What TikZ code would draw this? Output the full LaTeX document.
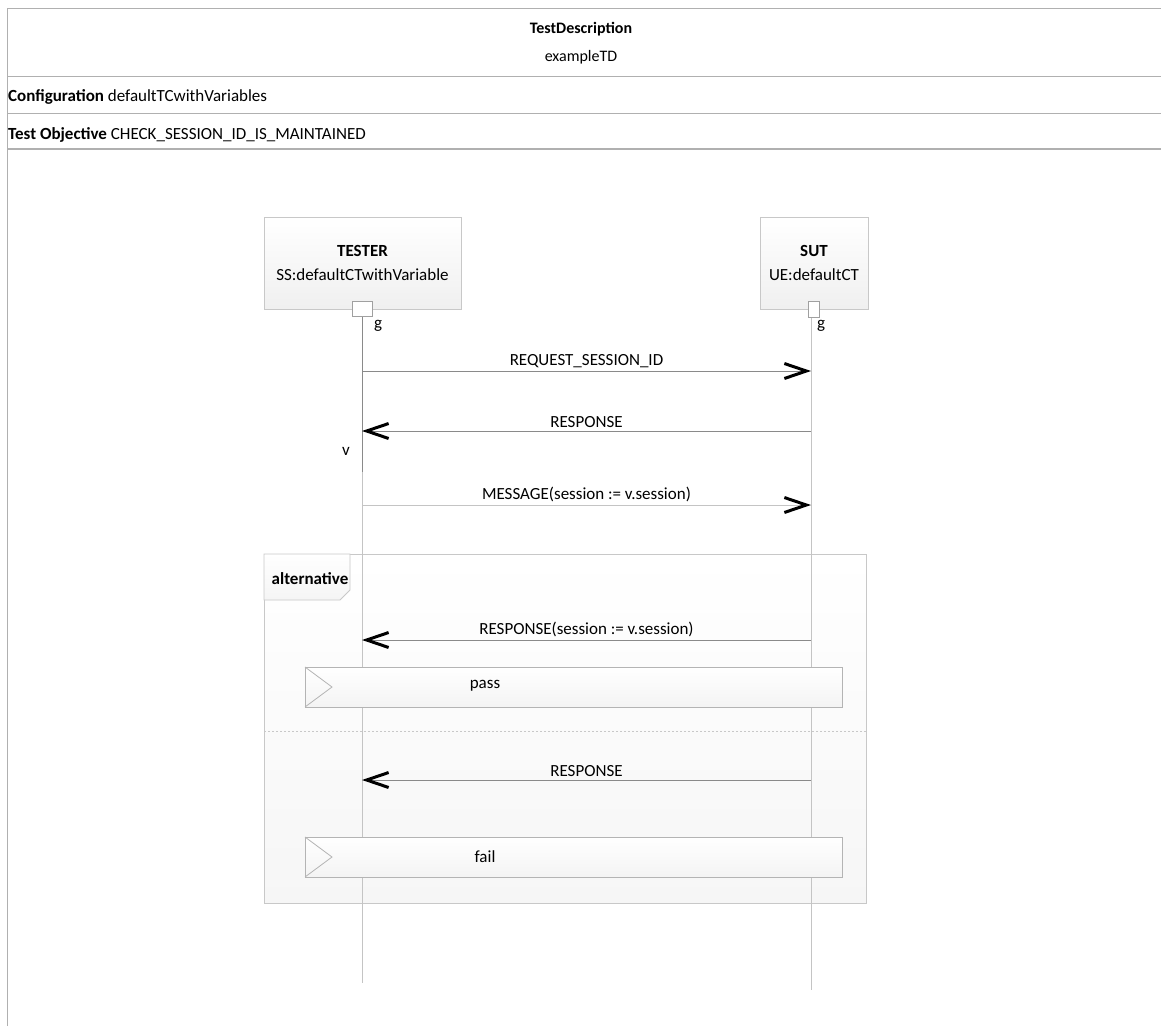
\documentclass[tikz,border=0pt]{standalone}
\usepackage{fontspec}
\setmainfont{Carlito}
\usetikzlibrary{arrows.meta}
\definecolor{hdrline}{HTML}{B0B0B0}
\definecolor{boxline}{HTML}{C8C8C8}
\definecolor{lifeline}{HTML}{C4C4C4}
\definecolor{msgline}{HTML}{8A8A8A}
\tikzset{
  hdr/.style={draw=hdrline, line width=1pt},
  headbox/.style={draw=boxline, line width=0.8pt, top color=white, bottom color=gray!12, minimum width=197pt, minimum height=92pt, align=center, inner sep=0pt},
  gatebox/.style={draw=boxline!80!black, line width=0.8pt, fill=white, inner sep=0pt},
  lifel/.style={draw=lifeline, line width=1pt},
  msg/.style={draw=msgline, line width=0.9pt, -{Straight Barb[length=22pt, width=15pt, line width=3pt, color=black]}},
  msglabel/.style={inner sep=1pt, anchor=base},
  verdict/.style={draw=boxline!90!black, line width=0.8pt, top color=white, bottom color=gray!9, minimum width=537pt, minimum height=40pt, inner sep=0pt},
  altframe/.style={draw=boxline, line width=0.8pt, top color=white, bottom color=gray!7},
}
\begin{document}
\begin{tikzpicture}[x=1pt, y=-1pt, font=\fontsize{17}{20}\selectfont]
\useasboundingbox (0,0) rectangle (1161,1026);
% header
\draw[hdr] (7,1026) -- (7,8) -- (1161,8);
\draw[hdr] (7,76) -- (1161,76);
\draw[hdr] (7,113) -- (1161,113);
\draw[hdr, line width=1.4pt] (7,149) -- (1161,149);
\node[font=\fontsize{16}{19}\selectfont] (tdtitle) at (581,29) {\textbf{TestDescription}};
\node[font=\fontsize{16}{19}\selectfont] (tdname) at (581,57) {exampleTD};
\node[anchor=west, inner sep=0pt] (conf) at (8,97) {\textbf{Configuration} defaultTCwithVariables};
\node[anchor=west, inner sep=0pt] (obj) at (8,135) {\textbf{Test Objective} CHECK\_SESSION\_ID\_IS\_MAINTAINED};
% alternative frame
\path[altframe] (264,554) rectangle (866,903);
\path[draw=boxline, line width=0.8pt, top color=white, bottom color=gray!8] (264,554) -- (350,554) -- (350,590) -- (340,600) -- (264,600) -- cycle;
\node (altlabel) at (310,579) {\textbf{alternative}};
\draw[boxline, dashed, dash pattern=on 2pt off 2pt, line width=0.6pt] (264,731) -- (866,731);
% lifeline heads
\node[headbox] (tester) at (362.5,263) {\textbf{TESTER}\\[4pt]SS:defaultCTwithVariable};
\node[headbox, minimum width=108pt] (sut) at (814,263) {\textbf{SUT}\\[4pt]UE:defaultCT};
% lifelines
\coordinate (tend) at (362,983);
\coordinate (send) at (811,990);
\draw[lifel] (362,316) -- (tend);
\draw[lifel] (811,317) -- (send);
\draw[msgline, line width=0.9pt] (362,316) -- (362,472);
% gates
\node[gatebox, minimum width=20pt, minimum height=15pt] (tgate) at (362,308.5) {};
\node[gatebox, minimum width=11pt, minimum height=16pt] (sgate) at (813.5,309) {};
\node (tg) at (378,326) {g};
\node (sg) at (821,326) {g};
% messages
\coordinate (t1) at (362,371); \coordinate (s1) at (811,371);
\coordinate (t2) at (362,431); \coordinate (s2) at (811,431);
\coordinate (t3) at (362,505); \coordinate (s3) at (811,505);
\coordinate (t4) at (362,640); \coordinate (s4) at (811,640);
\coordinate (t5) at (362,780); \coordinate (s5) at (811,780);
\draw[msg] (t1) -- node[msglabel, above=2pt] (m1) {REQUEST\_SESSION\_ID} (s1);
\draw[msg] (s2) -- node[msglabel, above=2pt] (m2) {RESPONSE} (t2);
\node (vlabel) at (346,451) {v};
\draw[msg, draw=lifeline] (t3) -- node[msglabel, above=2pt] (m3) {MESSAGE(session := v.session)} (s3);
\draw[msg] (s4) -- node[msglabel, above=2pt] (m4) {RESPONSE(session := v.session)} (t4);
\draw[msg] (s5) -- node[msglabel, above=2pt] (m5) {RESPONSE} (t5);
% verdicts
\node[verdict] (pass) at (573.5,687) {};
\draw[boxline!90!black, line width=0.8pt] (305,667) -- (332,687) -- (305,707);
\node (passlabel) at (485,686) {pass};
\node[verdict] (fail) at (573.5,857) {};
\draw[boxline!90!black, line width=0.8pt] (305,837) -- (332,857) -- (305,877);
\node (faillabel) at (485,857) {fail};
\end{tikzpicture}
\end{document}
